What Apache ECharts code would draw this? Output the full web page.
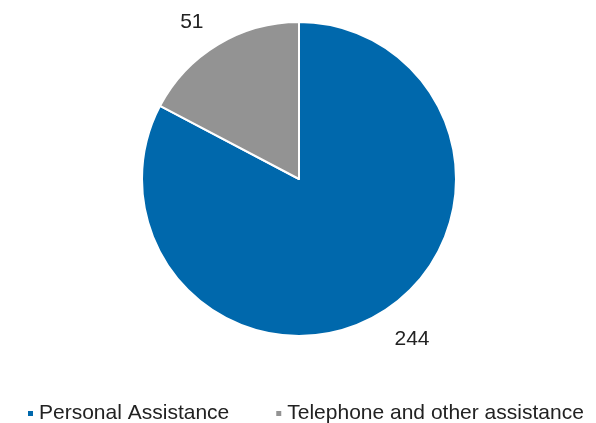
<!DOCTYPE html>
<html><head><meta charset="utf-8">
<script src="https://cdn.jsdelivr.net/npm/echarts@6/dist/echarts.min.js"></script>
<style>html,body{margin:0;padding:0;background:#fff}#c{width:596px;height:423px}</style>
</head><body><div id="c"></div>
<script>
const categories = ["Personal Assistance", "Telephone and other assistance"];
const values = [244, 51];
const colors = ["#0068AC", "#939393"];
const labelShift = [[-2, 7], [2, -4]];

const chart = echarts.init(document.getElementById('c'));
chart.setOption({
  animation: false,
  color: colors,
  legend: {
    top: 398,
    left: 21,
    icon: 'rect',
    itemWidth: 7,
    itemHeight: 7,
    itemGap: 45,
    textStyle: { fontFamily: 'Liberation Sans', fontSize: 21, color: '#222' },
    data: categories
  },
  series: [{
    type: 'pie',
    center: [299, 179],
    radius: [0, 157],
    startAngle: 90,
    clockwise: true,
    itemStyle: { borderColor: '#fff', borderWidth: 2 },
    label: {
      show: true,
      position: 'outside',
      formatter: '{c}',
      fontFamily: 'Liberation Sans',
      fontSize: 21,
      color: '#222'
    },
    labelLine: { show: false, length: 22, length2: 0 },
    labelLayout: function (p) {
      const s = labelShift[p.dataIndex];
      return { dx: s[0], dy: s[1] };
    },
    data: categories.map((n, i) => ({ name: n, value: values[i] }))
  }]
});
</script></body></html>
